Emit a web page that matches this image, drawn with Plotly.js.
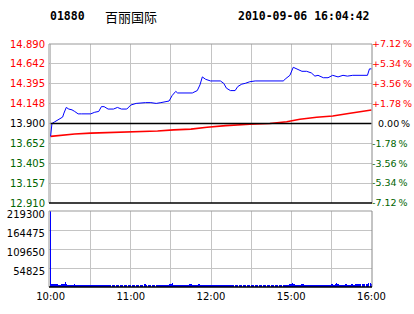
<!DOCTYPE html>
<html><head><meta charset="utf-8">
<script src="https://cdn.plot.ly/plotly-3.0.1.min.js"></script>
<style>html,body{margin:0;padding:0;background:#fff}</style>
</head><body><div id="chart" style="width:414px;height:314px"></div>
<script>
const stockCode = '01880';
const stockName = '百丽国际';
const stamp = '2010-09-06 16:04:42';
const prevClose = 13.900;

// minutes since 10:00 on a trading-time axis (10:00-12:30, 14:30-16:00)
const priceTimes = [0,1,3,5,7,9,10,11.7,13.6,16,18,20.6,23,27,30,33,36,38,40,43,47,50,53,57,60,64,67.6,71,75,79,82.5,85,88.6,91,93.6,95,100,106,109.7,111.7,113.5,116,119.6,123,127,129.5,131.5,134.5,138,140,143,145.6,149,153,158,162,166,170,174,176,179,181.5,184,188,191.5,195,197.7,200,204,207.5,211,215,218.7,222,226,229.8,233.5,237,238.5,240];
const prices = [13.74,13.90,13.92,13.94,13.95,13.98,14.03,14.10,14.08,14.07,14.05,14.02,14.02,14.02,14.02,14.04,14.05,14.11,14.11,14.08,14.08,14.10,14.08,14.08,14.13,14.15,14.16,14.16,14.16,14.15,14.16,14.17,14.18,14.25,14.30,14.28,14.28,14.28,14.31,14.38,14.48,14.45,14.43,14.43,14.43,14.40,14.34,14.31,14.31,14.36,14.39,14.40,14.42,14.43,14.43,14.43,14.43,14.43,14.43,14.46,14.50,14.60,14.58,14.55,14.55,14.53,14.49,14.50,14.47,14.47,14.50,14.48,14.50,14.49,14.50,14.50,14.50,14.50,14.58,14.58];

const avgTimes = [0,8,18,30,43,55,67,80,92,105,117,127,131,149,164,176.6,186.5,199,211,224,236,240];
const avgPrices = [13.74,13.757,13.77,13.78,13.785,13.79,13.80,13.807,13.82,13.83,13.853,13.869,13.873,13.89,13.90,13.922,13.952,13.977,13.993,14.027,14.059,14.068];

// one bar per minute, index = minute
const volumes = [219300,
 9800,8500,9200,7600,8800,7200,6900,8100,7400,9600,
 13800,7800,6500,7200,5900,6800,6100,7400,5600,6300,
 5800,6600,5400,6100,5700,6900,5200,6000,5500,6400,
 5900,5300,6200,5600,6800,5100,5800,6300,5400,5700,
 6100,5500,5900,6600,5200,5800,6000,5300,6400,5600,
 5700,6200,5400,5900,5100,6300,5600,6000,5500,6100,
 5800,5300,6500,5700,6000,5400,6200,5900,6700,7800,
 7400,6100,5600,6300,5500,5900,6200,5400,6000,5700,
 5600,6100,5300,5800,6400,5500,6000,6900,7600,8400,
 10900,7200,6300,5800,6100,5400,5900,6200,5600,6000,
 5700,6300,6600,7500,7900,6400,5800,6100,6700,6900,
 7700,6800,6200,5900,6400,5700,6100,5500,6000,5800,
 5600,6200,5400,5900,6100,5700,6300,6500,6100,5800,
 6400,6000,5600,6200,5500,5800,6100,5700,6600,6300,
 5900,6200,5600,6000,5800,5400,6100,5700,6300,5900,
 5500,6000,5800,5400,6200,5600,5900,6100,5700,6000,
 5800,5500,6300,5900,5600,6100,5700,6000,5400,6200,
 5800,6300,5600,6500,6000,6900,7200,6600,7400,8300,
 11200,7600,6900,6400,6800,7100,6200,8700,7900,6500,
 6100,6600,5900,6300,5700,6800,6200,5800,6400,6000,
 5900,6200,5700,6500,6100,5800,6400,6000,6600,7300,
 7800,6900,7400,10800,7600,6800,7200,6500,7000,6700,
 7300,6600,7100,6900,7500,8600,7200,9700,8100,7400,
 8800,7600,9400,8200,7800,9100,8500,10200,11900,9300];

const priceTicks = [12.910,13.157,13.405,13.652,13.900,14.148,14.395,14.642,14.890];
const pctLabels = ['-7.12\u2009%','-5.34\u2009%','-3.56\u2009%','-1.78\u2009%','\u20070.00\u2009%','+1.78\u2009%','+3.56\u2009%','+5.34\u2009%','+7.12\u2009%'];
const volumeTicks = [54825,109650,164475,219300];
const timeTicks = [0,30,60,90,120,150,180,210,240];
const timeLabels = ['10:00','','11:00','','12:00','','15:00','','16:00'];

const RED = '#ff0000', GREEN = '#006400', BLACK = '#000000';
function tone(v){ return v > prevClose + 1e-9 ? RED : (v < prevClose - 1e-9 ? GREEN : BLACK); }
const leftText = priceTicks.map(v => '<span style="fill:' + tone(v) + '">' + v.toFixed(3) + '</span>');
const rightText = priceTicks.map((v,i) => '<span style="fill:' + tone(v) + '">' + pctLabels[i] + '</span>');

const font = {family: 'DejaVu Sans, sans-serif', size: 10, color: '#000'};
const rfont = {family: 'DejaVu Sans, sans-serif', size: 9.5, color: '#000'};
const GRID = '#c4c4c4';
const xr = [-1.2, 240.4];

const traces = [
  {x: avgTimes, y: avgPrices, type: 'scatter', mode: 'lines', line: {color: RED, width: 1.6}, xaxis: 'x', yaxis: 'y', hoverinfo: 'skip'},
  {x: [timeTicks[0], timeTicks[timeTicks.length-1]], y: [prevClose, prevClose], type: 'scatter', mode: 'lines', line: {color: BLACK, width: 1.4}, xaxis: 'x', yaxis: 'y3', hoverinfo: 'skip'},
  {x: priceTimes, y: prices, type: 'scatter', mode: 'lines', line: {color: '#0000ff', width: 1}, xaxis: 'x', yaxis: 'y', hoverinfo: 'skip'},
  {x: volumes.map((v,i) => i), y: volumes, type: 'bar', marker: {color: '#0000ff', line: {width: 0}}, width: 0.9, xaxis: 'x2', yaxis: 'y2', hoverinfo: 'skip'}
];

const border = (xref, yref) => [
  {type:'line', xref: xref+' domain', yref: yref+' domain', x0:0, x1:1, y0:1, y1:1, line:{color:'#999', width:1}},
  {type:'line', xref: xref+' domain', yref: yref+' domain', x0:0, x1:0, y0:0, y1:1, line:{color:'#999', width:1}},
  {type:'line', xref: xref+' domain', yref: yref+' domain', x0:1, x1:1, y0:0, y1:1, line:{color:'#888', width:1}},
  {type:'line', xref: xref+' domain', yref: yref+' domain', x0:0, x1:1, y0:0, y1:0, line:{color:'#000', width:1.4}}
];

const layout = {
  width: 414, height: 314,
  margin: {l: 49, r: 42, t: 44, b: 27, pad: 0},
  paper_bgcolor: '#fff', plot_bgcolor: '#fff',
  showlegend: false, bargap: 0,
  font: font,
  xaxis: {domain: [0,1], anchor: 'y', range: xr, tickvals: timeTicks, showticklabels: false, showgrid: true, gridcolor: GRID, gridwidth: 1, zeroline: false, ticks: '', fixedrange: true},
  yaxis: {domain: [84/243, 1], anchor: 'x', range: [priceTicks[0], priceTicks[priceTicks.length-1]], tickvals: priceTicks, ticktext: leftText, showgrid: true, gridcolor: GRID, zeroline: false, ticks: '', ticklabelstandoff: 3, tickfont: font},
  yaxis3: {overlaying: 'y', side: 'right', anchor: 'x', range: [priceTicks[0], priceTicks[priceTicks.length-1]], tickvals: priceTicks, ticktext: rightText, showgrid: false, zeroline: false, ticks: '', ticklabelstandoff: -1, tickfont: rfont},
  xaxis2: {domain: [0,1], anchor: 'y2', range: xr, tickvals: timeTicks, ticktext: timeLabels, showgrid: true, gridcolor: GRID, zeroline: false, ticks: '', tickfont: font, ticklabelstandoff: 2},
  yaxis2: {domain: [0, 76/243], anchor: 'x2', range: [0, volumeTicks[volumeTicks.length-1]], tickvals: volumeTicks, ticktext: volumeTicks.map(String), showgrid: true, gridcolor: GRID, zeroline: false, ticks: '', ticklabelstandoff: 3, ticklabelshift: 3, tickfont: font},
  shapes: border('x','y').concat(border('x2','y2')),
  annotations: [
    {xref:'paper', yref:'paper', x:(67-49)/323, y:(287-16)/243, text: stockCode, showarrow:false, xanchor:'center', yanchor:'middle', font:{family:'DejaVu Sans Mono, monospace', size:11.5, color:'#000', weight:'bold'}},
    {xref:'paper', yref:'paper', x:(131-49)/323, y:(287-16)/243, text: stockName, showarrow:false, xanchor:'center', yanchor:'middle', font:{family:'Noto Sans CJK SC, sans-serif', size:13, color:'#000'}},
    {xref:'paper', yref:'paper', x:(304-49)/323, y:(287-16)/243, text: stamp, showarrow:false, xanchor:'center', yanchor:'middle', font:{family:'DejaVu Sans Mono, monospace', size:11.5, color:'#000', weight:'bold'}}
  ]
};

Plotly.newPlot('chart', traces, layout, {displayModeBar: false, staticPlot: true});
</script>
</body></html>
